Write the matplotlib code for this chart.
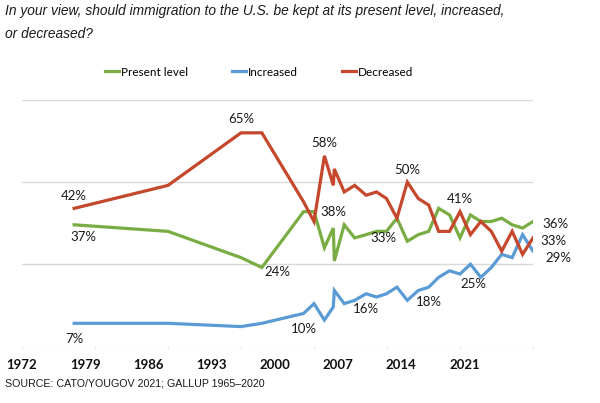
import matplotlib
matplotlib.use("Agg")
import matplotlib.pyplot as plt
from matplotlib.lines import Line2D

years = [1977, 1986, 1993, 1995, 1999, 2000, 2001.0, 2001.85, 2001.95, 2002.9, 2003.9,
         2005, 2006, 2006.95, 2007.95, 2008.95, 2010, 2011, 2011.95, 2013, 2014, 2015,
         2016, 2017, 2018, 2019, 2020, 2021]
present = [37, 35, 27, 24, 41, 41, 30, 36, 26, 37, 33, 34, 35, 35, 39, 32, 34, 35, 42,
           40, 33, 40, 38, 38, 39, 37, 36, 38]
increased = [7, 7, 6, 7, 10, 13, 8, 12, 17, 13, 14, 16, 15, 16, 18, 14, 17, 18, 21, 23,
             22, 25, 21, 24, 28, 27, 34, 29]
decreased = [42, 49, 65, 65, 44, 38, 58, 49, 54, 47, 49, 46, 47, 45, 39, 50, 45, 43, 35,
             35, 41, 34, 38, 35, 29, 35, 28, 33]

series_names = ["Present level", "Increased", "Decreased"]
colors = ["#79ad43", "#5b9bd5", "#c5472c"]

tick_years = [1972, 1979, 1986, 1993, 2000, 2007, 2014, 2021]

# (series index, point index, label text, x offset pt, y offset pt)
labels = [
    (2, 0, "42%", 0, 9), (0, 0, "37%", 7, -9), (2, 2, "65%", 0, 10),
    (0, 3, "24%", 11, -3), (1, 0, "7%", 0, -11), (2, 6, "58%", 0, 9),
    (2, 5, "38%", 14, 7), (0, 13, "33%", -2, -5), (1, 4, "10%", 0, -11),
    (1, 11, "16%", 0, -11), (2, 15, "50%", 0, 9), (1, 17, "18%", 0, -11),
    (2, 20, "41%", 0, 9), (1, 21, "25%", 2, -14), (0, 27, "36%", 16, -2),
    (2, 27, "33%", 15, -2), (1, 27, "29%", 18, -5),
]

fig = plt.figure(figsize=(6.0, 4.03), dpi=100)
ax = fig.add_axes([22/600, 1-346.3/403, (533-22)/600, (346.3-100)/403])

data = [present, increased, decreased]
for vals, c, name in zip(data, colors, series_names):
    ax.plot(years, vals, color=c, lw=2.3, solid_joinstyle="miter", label=name, zorder=3)

ax.set_xlim(1972, 2021)
ax.set_ylim(0, 75)
ax.set_yticks([25, 50, 75])
ax.yaxis.grid(True, color="#d9d9d9", lw=1.0)
ax.axhline(0, color="#ececec", lw=1.0, zorder=1)
ax.tick_params(axis="y", left=False, labelleft=False)
ax.set_xticks(tick_years)
ax.tick_params(axis="x", direction="out", length=3, color="#ececec", labelbottom=False)
for s in ax.spines.values():
    s.set_visible(False)
ax.set_axisbelow(True)

# tick labels on a secondary axis (as positioned in the original)
ax2 = ax.twiny()
ax2.xaxis.set_ticks_position("bottom")
ax2.set_xlim(1972.44, 2028.58)
ax2.set_xticks(tick_years)
ax2.set_xticklabels([str(y) for y in tick_years], fontfamily="Lato",
                    fontweight="bold", fontsize=9.5, color="#111111")
ax2.tick_params(axis="x", length=0, pad=9)
for s in ax2.spines.values():
    s.set_visible(False)

for si, pi, txt, dx, dy in labels:
    ax.annotate(txt, (years[pi], data[si][pi]), xytext=(dx, dy),
                textcoords="offset points", ha="center", va="center",
                fontfamily="Lato", fontsize=9.5, color="#1a1a1a",
                annotation_clip=False, zorder=4)

handles = [Line2D([0], [0], color=c, lw=2.3) for c in colors]
fig.legend(handles, series_names, loc="center", bbox_to_anchor=(259/600, 1-72/403),
           ncol=3, frameon=False, handlelength=1.2, handletextpad=0.15,
           columnspacing=3.75, prop={"family": "Lato", "size": 8.5})

fig.text(5/600, 1-4/403,
         "In your view, should immigration to the U.S. be kept at its present level, increased,\nor decreased?",
         ha="left", va="top", fontfamily="Liberation Sans", fontstyle="italic",
         fontsize=9.9, color="#1a1a1a", linespacing=1.8)
fig.text(5/600, 1-383/403, "SOURCE: CATO/YOUGOV 2021; GALLUP 1965\u20132020",
         ha="left", va="center", fontfamily="Liberation Sans", fontsize=7.7,
         color="#1a1a1a")

fig.savefig("out.png", dpi=100)
